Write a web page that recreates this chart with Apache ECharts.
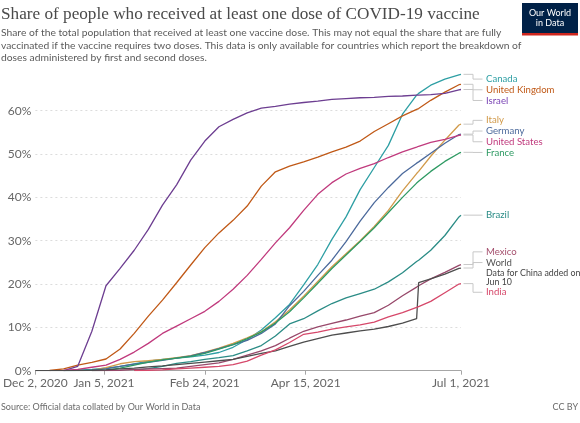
<!DOCTYPE html>
<html><head><meta charset="utf-8">
<script src="https://cdn.jsdelivr.net/npm/echarts@6/dist/echarts.min.js"></script>
<style>html,body{margin:0;padding:0;background:#fff}#c{width:580px;height:423px}</style>
</head><body><div id="c"></div>
<script>
// ---- data ----
const dates = ['2020-12-02','2020-12-09','2020-12-16','2020-12-23','2020-12-30','2021-01-06','2021-01-13','2021-01-20','2021-01-27','2021-02-03','2021-02-10','2021-02-17','2021-02-24','2021-03-03','2021-03-10','2021-03-17','2021-03-24','2021-03-31','2021-04-07','2021-04-14','2021-04-21','2021-04-28','2021-05-05','2021-05-12','2021-05-19','2021-05-26','2021-06-02','2021-06-09','2021-06-10','2021-06-16','2021-06-23','2021-06-30','2021-07-01'];
const canada  = [null,null,0,0.1,0.3,0.6,1.0,1.6,2.2,2.6,2.9,3.2,3.6,4.2,5.4,7.2,9.4,12.2,15.3,19.8,24.5,30.3,35.5,41.8,46.9,52.0,59.2,63.6,64.0,65.9,67.3,68.3,68.4];
const uk      = [null,0.05,0.4,1.3,1.9,2.7,5.0,8.6,12.6,16.3,20.3,24.4,28.4,31.8,34.7,38.0,42.6,45.9,47.2,48.2,49.3,50.5,51.6,53.0,55.2,57.0,58.8,60.3,60.5,62.4,64.3,66.0,66.1];
const israel  = [null,null,0,1.0,9.1,19.6,23.6,27.8,32.6,38.2,42.9,48.6,53.0,56.3,58.0,59.5,60.6,61.0,61.5,61.9,62.2,62.6,62.8,63.0,63.1,63.3,63.4,63.6,63.6,63.7,64.0,64.8,64.9];
const italy   = [null,null,null,null,0.1,0.7,1.6,2.1,2.3,2.6,3.0,3.5,4.3,5.2,6.3,7.6,9.0,11.3,14.0,17.2,20.6,24.0,27.0,30.0,33.3,37.0,41.5,45.5,46.0,49.5,53.2,56.7,56.9];
const germany = [null,null,null,null,0.1,0.4,1.0,1.5,1.9,2.4,2.9,3.4,4.2,5.1,6.0,7.0,8.6,10.8,15.0,18.3,22.0,25.5,29.8,34.5,38.8,42.3,45.5,47.9,48.2,50.2,52.5,54.5,54.6];
const usa     = [null,null,0.05,0.3,0.8,1.3,2.6,4.3,6.3,8.6,10.3,12.0,13.7,16.0,18.8,22.0,25.7,29.5,33.0,37.0,40.7,43.4,45.4,46.7,47.8,49.2,50.5,51.6,51.8,52.7,53.4,54.3,54.4];
const france  = [null,null,null,null,0.02,0.1,0.6,1.3,2.0,2.5,2.9,3.3,4.0,5.0,6.0,7.4,8.9,11.0,13.6,16.8,20.2,23.6,26.7,29.8,33.0,36.5,40.0,43.3,43.7,46.0,48.3,50.2,50.4];
const brazil  = [null,null,null,null,null,null,null,0.1,0.5,1.0,1.7,2.1,2.6,3.0,3.5,4.6,5.8,8.0,10.8,12.0,13.8,15.5,16.8,17.8,18.8,20.5,22.6,25.2,25.5,27.8,31.2,35.5,35.9];
const mexico  = [null,null,null,null,0.02,0.05,0.1,0.3,0.4,0.5,0.6,1.0,1.4,1.8,2.6,3.6,4.6,5.8,7.5,9.1,10.1,10.9,11.7,12.6,13.4,15.1,17.3,19.3,19.6,21.2,22.7,24.3,24.5];
const world   = [0,0.01,0.02,0.05,0.1,0.2,0.4,0.6,0.9,1.1,1.4,1.7,2.0,2.3,2.6,3.3,4.0,4.6,5.6,6.6,7.4,8.2,8.7,9.2,9.6,10.2,11.0,12.0,20.3,21.2,22.3,23.6,23.7];
const india   = [null,null,null,null,null,null,null,0.02,0.1,0.2,0.4,0.6,0.8,1.0,1.4,2.2,3.6,4.8,6.5,8.4,8.9,9.6,10.1,10.6,11.2,12.4,13.4,14.6,14.8,16.0,18.0,20.0,20.1];
const seriesNames = ['Canada','United Kingdom','Israel','Italy','Germany','United States','France','Brazil','Mexico','World','India'];
const seriesValues = [canada, uk, israel, italy, germany, usa, france, brazil, mexico, world, india];
const tickDates  = ['2020-12-02','2021-01-05','2021-02-24','2021-04-15','2021-07-01'];
const tickLabels = ['Dec 2, 2020','Jan 5, 2021','Feb 24, 2021','Apr 15, 2021','Jul 1, 2021'];
const chinaNote = ['Data for China added on','Jun 10'];
const titleText = 'Share of people who received at least one dose of COVID-19 vaccine';
const subtitleLines = [
  'Share of the total population that received at least one vaccine dose. This may not equal the share that are fully',
  'vaccinated if the vaccine requires two doses. This data is only available for countries which report the breakdown of',
  'doses administered by first and second doses.'
];
const sourceText = 'Source: Official data collated by Our World in Data';

// ---- styles ----
const colors = {
  'Canada':'#2E9FA4','United Kingdom':'#C05917','Israel':'#6D3E91','Italy':'#D19A4A',
  'Germany':'#4C6A9C','United States':'#C03A7D','France':'#2E9A63','Brazil':'#2B8C86',
  'Mexico':'#97486A','World':'#4D4D4D','India':'#D6486A'
};
const labelColors = Object.assign({}, colors, {'Israel':'#7A45B5','Mexico':'#A5506E','World':'#555'});
const FONT = 'Lato, "Noto Sans", sans-serif';
const dayOf = s => Math.round((Date.parse(s + 'T00:00:00Z') - Date.parse(dates[0] + 'T00:00:00Z')) / 86400000);
const tickDays = tickDates.map(dayOf);

const chart = echarts.init(document.getElementById('c'), null, {renderer:'canvas'});
const series = seriesNames.map((n, i) => ({
  name: n, type: 'line', showSymbol: false, symbol: 'none', animation: false,
  lineStyle: {width: 1.3, color: colors[n]}, itemStyle: {color: colors[n]},
  data: dates.map((d, k) => [dayOf(d), seriesValues[i][k]])
}));

chart.setOption({
  animation: false,
  grid: {left: 26, right: 119, top: 67.4, bottom: 52.3, containLabel: false},
  xAxis: {
    type: 'value', min: tickDays[0], max: tickDays[tickDays.length-1],
    axisLine: {show: true, lineStyle: {color: '#a6a6a6', width: 1}},
    axisTick: {show: true, customValues: tickDays, length: 4, lineStyle: {color: '#a6a6a6'}},
    axisLabel: {customValues: tickDays, fontFamily: FONT, fontSize: 12, color: '#666', margin: 6,
      formatter: v => { const k = tickDays.indexOf(v); return k >= 0 ? tickLabels[k] : ''; }},
    splitLine: {show: false}
  },
  yAxis: {
    type: 'value', min: 0, max: 70, interval: 10,
    axisLine: {show: false}, axisTick: {show: false},
    axisLabel: {fontFamily: FONT, fontSize: 12, color: '#666', margin: 4, showMaxLabel: false,
      formatter: v => v + '%'},
    splitLine: {show: true, showMinLine: false, showMaxLine: false,
      lineStyle: {color: '#dcdcdc', type: [2, 3], width: 1}}
  },
  series: series
});

// ---- line-end labels with leader lines ----
const LH = 10.7, NOTE_LH = 9.5;
const items = seriesNames.map((n, i) => {
  const v = seriesValues[i]; let last = v.length - 1; while (v[last] == null) last--;
  const p = chart.convertToPixel({xAxisIndex: 0, yAxisIndex: 0}, [dayOf(dates[last]), v[last]]);
  const extra = n === 'World' ? chinaNote.length : 0;
  return {name: n, x: p[0], y: p[1], h: LH + extra * NOTE_LH, extra};
}).sort((a, b) => a.y - b.y);
const topLimit = items[0].y - 0.6;
function desiredTop(g) {
  let off = 0, sum = 0;
  g.items.forEach(it => { sum += (it.y - it.h / 2) - off; off += it.h; });
  return Math.max(sum / g.items.length, topLimit);
}
let groups = items.map(it => { const g = {items: [it], h: it.h}; g.top = desiredTop(g); return g; });
let changed = true;
while (changed) {
  changed = false;
  for (let k = 0; k < groups.length - 1; k++) {
    const a = groups[k], b = groups[k + 1];
    if (a.top + a.h > b.top) {
      const g = {items: a.items.concat(b.items), h: a.h + b.h};
      g.top = desiredTop(g);
      groups.splice(k, 2, g); changed = true; break;
    }
  }
}
const gfx = [];
groups.forEach(g => {
  let yy = g.top;
  g.items.forEach(it => {
    const ly = yy + LH / 2;
    const x0 = it.x + 2.5, xe = it.x + 12, x1 = it.x + 21.5, tx = it.x + 25;
    gfx.push({type: 'polyline', silent: true, z: 5,
      shape: {points: [[x0, it.y], [xe, it.y], [xe, ly], [x1, ly]]},
      style: {stroke: '#c8c8c8', lineWidth: 1, fill: null}});
    gfx.push({type: 'text', silent: true, z: 6, x: tx, y: ly,
      style: {text: it.name, fill: labelColors[it.name], font: '9.6px ' + FONT, verticalAlign: 'middle'}});
    if (it.extra) {
      chinaNote.forEach((t, j) => {
        gfx.push({type: 'text', silent: true, z: 6, x: tx, y: ly + LH / 2 + NOTE_LH * (j + 0.5) + 0.3,
          style: {text: t, fill: '#444', font: '8.8px ' + FONT, verticalAlign: 'middle'}});
      });
    }
    yy += it.h;
  });
});
// title & subtitle
gfx.push({type: 'text', silent: true, x: 1, y: 14.5,
  style: {text: titleText, fill: '#4a4a4a', font: '17.2px "Liberation Serif", serif', verticalAlign: 'middle'}});
subtitleLines.forEach((t, j) => {
  gfx.push({type: 'text', silent: true, x: 1, y: 32.8 + j * 12.4,
    style: {text: t, fill: '#5b5b5b', font: '10.3px ' + FONT, verticalAlign: 'middle'}});
});
// logo, source, licence
gfx.push({type: 'rect', silent: true, shape: {x: 522, y: 3, width: 56, height: 32}, style: {fill: '#002147'}});
gfx.push({type: 'rect', silent: true, shape: {x: 522, y: 33, width: 56, height: 2.5}, style: {fill: '#ce261e'}});
gfx.push({type: 'text', silent: true, x: 550, y: 13, style: {text: 'Our World', fill: '#fff', font: '9px ' + FONT, align: 'center', verticalAlign: 'middle'}});
gfx.push({type: 'text', silent: true, x: 550, y: 23.5, style: {text: 'in Data', fill: '#fff', font: '9px ' + FONT, align: 'center', verticalAlign: 'middle'}});
gfx.push({type: 'text', silent: true, x: 1, y: 407, style: {text: sourceText, fill: '#6b6b6b', font: '9px ' + FONT, verticalAlign: 'middle'}});
gfx.push({type: 'text', silent: true, x: 578, y: 407, style: {text: 'CC BY', fill: '#6b6b6b', font: '9px ' + FONT, align: 'right', verticalAlign: 'middle'}});
chart.setOption({graphic: gfx});
</script></body></html>
